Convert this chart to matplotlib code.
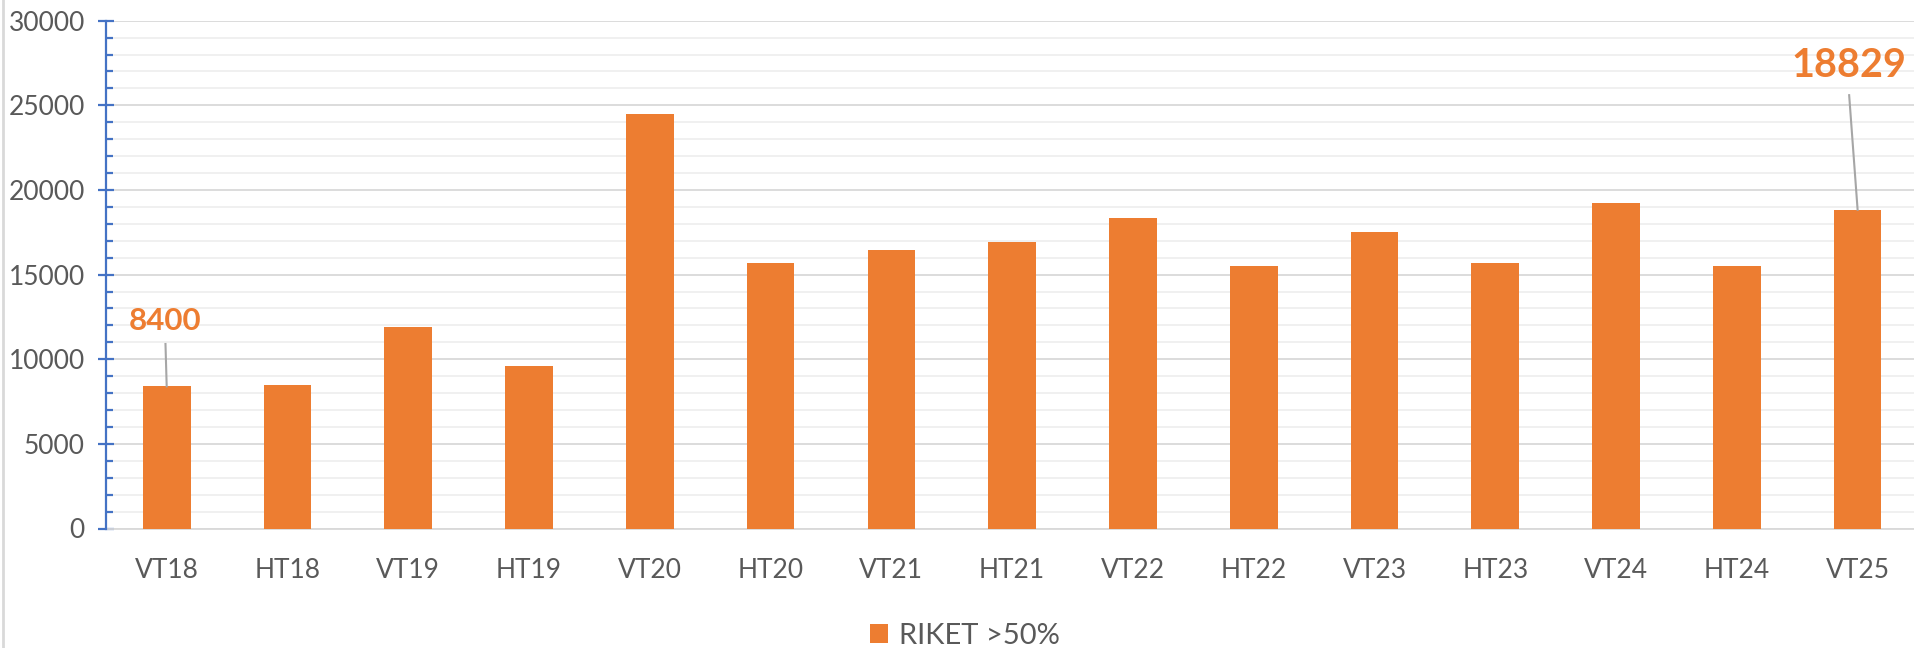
import matplotlib
matplotlib.use("Agg")
import matplotlib.pyplot as plt
from matplotlib.ticker import MultipleLocator
from matplotlib.lines import Line2D

categories = ["VT18", "HT18", "VT19", "HT19", "VT20", "HT20", "VT21", "HT21",
              "VT22", "HT22", "VT23", "HT23", "VT24", "HT24", "VT25"]
values = [8400, 8450, 11900, 9600, 24500, 15700, 16430, 16900,
          18350, 15520, 17520, 15680, 19250, 15500, 18829]
series_name = "RIKET >50%"
labelled = {0: "8400", 14: "18829"}

ORANGE = "#ED7D31"
GRAY_TXT = "#595959"
BLUE = "#4472C4"

plt.rcParams["font.family"] = ["Lato", "DejaVu Sans"]

W, H = 1915, 648
fig = plt.figure(figsize=(W / 100, H / 100), dpi=100)
left_px, right_px = 106.3, 1918.0
bot_px, top_px = 528.5, 20.7
ax = fig.add_axes([left_px / W, (H - bot_px) / H,
                   (right_px - left_px) / W, (bot_px - top_px) / H])

x = list(range(len(categories)))
bars = ax.bar(x, values, width=0.395, color=ORANGE, zorder=3, label=series_name)

ax.set_xlim(-0.5, len(categories) - 0.5)
ax.set_ylim(0, 30000)
ax.yaxis.set_major_locator(MultipleLocator(5000))
ax.yaxis.set_minor_locator(MultipleLocator(1000))
ax.grid(axis="y", which="major", color="#d9d9d9", linewidth=1.3, zorder=0)
ax.grid(axis="y", which="minor", color="#efefef", linewidth=1.3, zorder=0)
ax.set_axisbelow(True)

for s in ["top", "right"]:
    ax.spines[s].set_visible(False)
ax.spines["bottom"].set_color("#d9d9d9")
ax.spines["bottom"].set_linewidth(1.3)
ax.spines["left"].set_color(BLUE)
ax.spines["left"].set_linewidth(1.6)
ax.spines["left"].set_zorder(4)

ax.set_xticks(x)
ax.set_xticklabels(categories)
ax.tick_params(axis="x", length=0, pad=21, labelsize=19, labelcolor=GRAY_TXT)
ax.tick_params(axis="y", which="major", direction="inout", length=11, width=1.6,
               color=BLUE, labelsize=19, labelcolor=GRAY_TXT, pad=10)
ax.tick_params(axis="y", which="minor", direction="in", length=5, width=1.6,
               color=BLUE)

# data labels with leader lines
ann = {0: (-0.01, 12250, 10900, 22.5), 14: (13.93, 27380, 25600, 28.5)}
for i, txt in labelled.items():
    tx, ty, ly, fs = ann[i]
    ax.text(tx, ty, txt, ha="center", va="center", fontsize=fs,
            fontweight="bold", color=ORANGE, zorder=5)
    ax.plot([tx, i], [ly, values[i]], color="#a6a6a6", linewidth=1.5, zorder=4,
            clip_on=False)

# legend
fig.legend(handles=[bars], labels=[series_name], loc="center",
           bbox_to_anchor=(965 / W, 1 - 636 / H), frameon=False,
           fontsize=21, labelcolor=GRAY_TXT, handlelength=0.62, handleheight=0.62,
           handletextpad=0.4)

# chart area border on the left
fig.add_artist(Line2D([3 / W, 3 / W], [0, 1], color="#d9d9d9", linewidth=2,
                      transform=fig.transFigure))

fig.savefig("out.png", dpi=100, facecolor="white")
